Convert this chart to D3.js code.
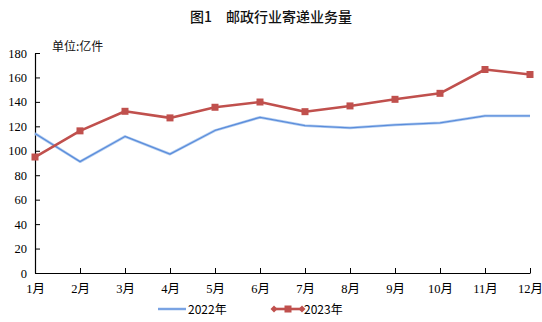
<!DOCTYPE html>
<html>
<head>
<meta charset="utf-8">
<script src="https://cdn.jsdelivr.net/npm/d3@7"></script>
<style>
  body { margin: 0; background: #fff; }
  svg { display: block; }
</style>
</head>
<body>
<svg id="chart" width="542" height="322"></svg>
<script>
const months = ['1月', '2月', '3月', '4月', '5月', '6月', '7月', '8月', '9月', '10月', '11月', '12月'];
const values2022 = [114.1, 91.1, 111.7, 97.3, 116.6, 127.4, 120.6, 118.8, 121.2, 122.8, 128.5, 128.5];
const values2023 = [94.9, 116.3, 132.3, 126.9, 135.6, 139.9, 132.0, 136.7, 142.1, 147.0, 166.5, 162.4];
const yTicks = [0, 20, 40, 60, 80, 100, 120, 140, 160, 180];
const seriesNames = ['2022年', '2023年'];

const margin = { top: 53, right: 12, bottom: 48, left: 35 };
const width = 542;
const height = 322;

const svg = d3.select('#chart');

const xScale = d3.scalePoint()
  .domain(months)
  .range([margin.left, width - margin.right]);

const yScale = d3.scaleLinear()
  .domain([0, 180])
  .range([height - margin.bottom - 1, margin.top]);

// title
svg.append('text')
  .attr('x', 271)
  .attr('y', 22)
  .attr('text-anchor', 'middle')
  .style('font-family', '"Noto Sans CJK SC", sans-serif')
  .style('font-size', '14px')
  .style('font-weight', '500')
  .style('fill', '#111')
  .text('图1\u3000邮政行业寄递业务量');

svg.append('text')
  .attr('x', 52)
  .attr('y', 51)
  .style('font-family', '"Noto Sans CJK SC", sans-serif')
  .style('font-size', '12px')
  .style('fill', '#111')
  .text('单位:亿件');

// axes
const yAxis = d3.axisLeft(yScale).tickValues(yTicks).tickSizeInner(-5).tickSizeOuter(0).tickPadding(8);
const gY = svg.append('g')
  .attr('transform', `translate(${margin.left},0)`)
  .call(yAxis);

const xAxis = d3.axisBottom(xScale).tickSizeInner(-5).tickSizeOuter(0).tickPadding(11);
const gX = svg.append('g')
  .attr('transform', `translate(0,${yScale(0)})`)
  .call(xAxis);

[gX, gY].forEach(g => {
  g.select('.domain').attr('stroke', '#000').attr('stroke-width', 1.2);
  g.selectAll('.tick line').attr('stroke', '#000');
  g.selectAll('.tick text')
    .style('font-family', '"Liberation Serif", "Noto Sans CJK SC", serif')
    .style('font-size', '12.5px')
    .style('fill', '#000');
});

const line = d3.line()
  .x((d, i) => xScale(months[i]))
  .y(d => yScale(d));

// 2022 series
svg.append('path')
  .datum(values2022)
  .attr('fill', 'none')
  .attr('stroke', '#b3cdf0')
  .attr('stroke-width', 2.8)
  .attr('stroke-linejoin', 'round')
  .attr('d', line);
svg.append('path')
  .datum(values2022)
  .attr('fill', 'none')
  .attr('stroke', '#5b8ddb')
  .attr('stroke-width', 1.3)
  .attr('stroke-linejoin', 'round')
  .attr('d', line);

// 2023 series
svg.append('path')
  .datum(values2023)
  .attr('fill', 'none')
  .attr('stroke', '#c0504d')
  .attr('stroke-width', 2.6)
  .attr('stroke-linejoin', 'round')
  .attr('d', line);

svg.append('g')
  .selectAll('rect')
  .data(values2023)
  .join('rect')
  .attr('x', (d, i) => xScale(months[i]) - 3.5)
  .attr('y', d => yScale(d) - 3.5)
  .attr('width', 7)
  .attr('height', 7)
  .attr('fill', '#c0504d');

// legend
const legY = 309;
const leg = svg.append('g');
leg.append('line')
  .attr('x1', 158).attr('x2', 186).attr('y1', legY).attr('y2', legY)
  .attr('stroke', '#b3cdf0').attr('stroke-width', 2.8);
leg.append('line')
  .attr('x1', 158).attr('x2', 186).attr('y1', legY).attr('y2', legY)
  .attr('stroke', '#5b8ddb').attr('stroke-width', 1.3);
leg.append('text')
  .attr('x', 188).attr('y', legY + 4.5)
  .style('font-family', '"Noto Sans CJK SC", sans-serif')
  .style('font-size', '12px')
  .text(seriesNames[0]);

leg.append('line')
  .attr('x1', 274).attr('x2', 302).attr('y1', legY).attr('y2', legY)
  .attr('stroke', '#c0504d').attr('stroke-width', 2.6);
[274, 302].forEach(x => {
  leg.append('path')
    .attr('d', `M${x - 3.5},${legY} L${x},${legY - 3.5} L${x + 3.5},${legY} L${x},${legY + 3.5} Z`)
    .attr('fill', '#c0504d');
});
leg.append('rect')
  .attr('x', 288 - 3.5).attr('y', legY - 3.5).attr('width', 7).attr('height', 7)
  .attr('fill', '#c0504d');
leg.append('text')
  .attr('x', 304).attr('y', legY + 4.5)
  .style('font-family', '"Noto Sans CJK SC", sans-serif')
  .style('font-size', '12px')
  .text(seriesNames[1]);
</script>
</body>
</html>
